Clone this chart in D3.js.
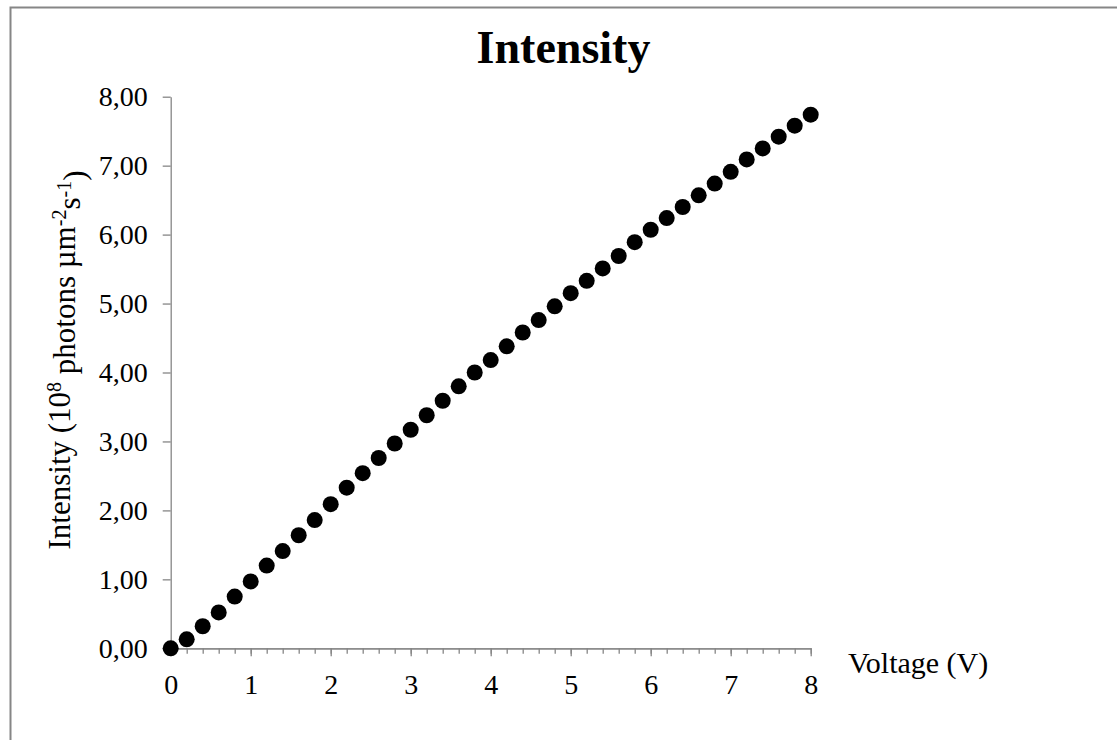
<!DOCTYPE html>
<html>
<head>
<meta charset="utf-8">
<script src="https://cdn.jsdelivr.net/npm/d3@7"></script>
<style>
  html, body { margin: 0; padding: 0; background: #ffffff; }
  svg { display: block; font-family: "Liberation Serif", "Times New Roman", serif; }
</style>
</head>
<body>
<svg id="chart" width="1117" height="740"></svg>
<script>
// Measured light intensity against drive voltage
const voltage = [0, 0.2, 0.4, 0.6, 0.8, 1.0, 1.2, 1.4, 1.6, 1.8,
                 2.0, 2.2, 2.4, 2.6, 2.8, 3.0, 3.2, 3.4, 3.6, 3.8,
                 4.0, 4.2, 4.4, 4.6, 4.8, 5.0, 5.2, 5.4, 5.6, 5.8,
                 6.0, 6.2, 6.4, 6.6, 6.8, 7.0, 7.2, 7.4, 7.6, 7.8, 8.0];
const intensity = [0.00, 0.13, 0.32, 0.52, 0.75, 0.97, 1.20, 1.41, 1.64, 1.86,
                   2.09, 2.33, 2.54, 2.76, 2.97, 3.17, 3.38, 3.59, 3.80, 4.00,
                   4.18, 4.38, 4.58, 4.76, 4.96, 5.15, 5.33, 5.51, 5.69, 5.89,
                   6.07, 6.24, 6.40, 6.57, 6.74, 6.91, 7.09, 7.25, 7.42, 7.58, 7.74];
const xMajorTicks = [0, 1, 2, 3, 4, 5, 6, 7, 8];
const xMinorTicks = [0, 0.2, 0.4, 0.6, 0.8, 1, 1.2, 1.4, 1.6, 1.8, 2, 2.2, 2.4, 2.6, 2.8,
                     3, 3.2, 3.4, 3.6, 3.8, 4, 4.2, 4.4, 4.6, 4.8, 5, 5.2, 5.4, 5.6, 5.8,
                     6, 6.2, 6.4, 6.6, 6.8, 7, 7.2, 7.4, 7.6, 7.8, 8];
const yTicks = [0, 1, 2, 3, 4, 5, 6, 7, 8];

const svg = d3.select("#chart");
const axisColor = "#868686";

// chart frame
svg.append("rect")
  .attr("x", 10.5).attr("y", 7.5)
  .attr("width", 1200).attr("height", 800)
  .attr("fill", "none")
  .attr("stroke", axisColor)
  .attr("stroke-width", 2);

const plot = { left: 170.7, right: 810.7, top: 96.7, bottom: 648.3 };

const x = d3.scaleLinear().domain([0, 8]).range([plot.left, plot.right]);
const y = d3.scaleLinear().domain([0, 8]).range([plot.bottom, plot.top]);

const fmt = d => d.toFixed(2).replace(".", ",");

// y axis
const gy = svg.append("g")
  .attr("transform", `translate(${plot.left},0)`)
  .call(d3.axisLeft(y).tickValues(yTicks).tickFormat(fmt).tickSize(8).tickPadding(15).tickSizeOuter(0));

// x axis: minor ticks, then major ticks with labels
const gxMinor = svg.append("g")
  .attr("transform", `translate(0,${plot.bottom})`)
  .call(d3.axisBottom(x).tickValues(xMinorTicks).tickFormat("").tickSize(5.5).tickSizeOuter(0));

const gx = svg.append("g")
  .attr("transform", `translate(0,${plot.bottom})`)
  .call(d3.axisBottom(x).tickValues(xMajorTicks).tickFormat(d3.format("d")).tickSize(8).tickPadding(18).tickSizeOuter(0));

[gy, gx, gxMinor].forEach(g => {
  g.selectAll(".domain").attr("stroke", axisColor).attr("stroke-width", 1.3);
  g.selectAll(".tick line").attr("stroke", axisColor).attr("stroke-width", 1.3);
  g.selectAll(".tick text")
    .attr("fill", "#000")
    .style("font-family", "'Liberation Serif', 'Times New Roman', serif")
    .style("font-size", "28px");
});

// data points
svg.append("g")
  .selectAll("circle")
  .data(voltage.map((v, i) => ({ v, I: intensity[i] })))
  .join("circle")
  .attr("cx", d => x(d.v))
  .attr("cy", d => y(d.I))
  .attr("r", 8)
  .attr("fill", "#000");

// title
svg.append("text")
  .attr("x", 563.5).attr("y", 62.7)
  .attr("text-anchor", "middle")
  .style("font-size", "46px")
  .style("font-weight", "bold")
  .text("Intensity");

// x axis title
svg.append("text")
  .attr("x", 848).attr("y", 673)
  .style("font-size", "30px")
  .text("Voltage (V)");

// y axis title with superscripts
const yLabel = svg.append("text")
  .attr("transform", "translate(70,360) rotate(-90)")
  .attr("text-anchor", "middle")
  .style("font-size", "31px");
yLabel.append("tspan").text("Intensity (10");
yLabel.append("tspan").attr("dy", "-0.45em").style("font-size", "20px").text("8");
yLabel.append("tspan").attr("dy", "0.45em").text(" photons µm");
yLabel.append("tspan").attr("dy", "-0.45em").style("font-size", "20px").text("-2");
yLabel.append("tspan").attr("dy", "0.45em").text("s");
yLabel.append("tspan").attr("dy", "-0.45em").style("font-size", "20px").text("-1");
yLabel.append("tspan").attr("dy", "0.45em").text(")");
</script>
</body>
</html>
